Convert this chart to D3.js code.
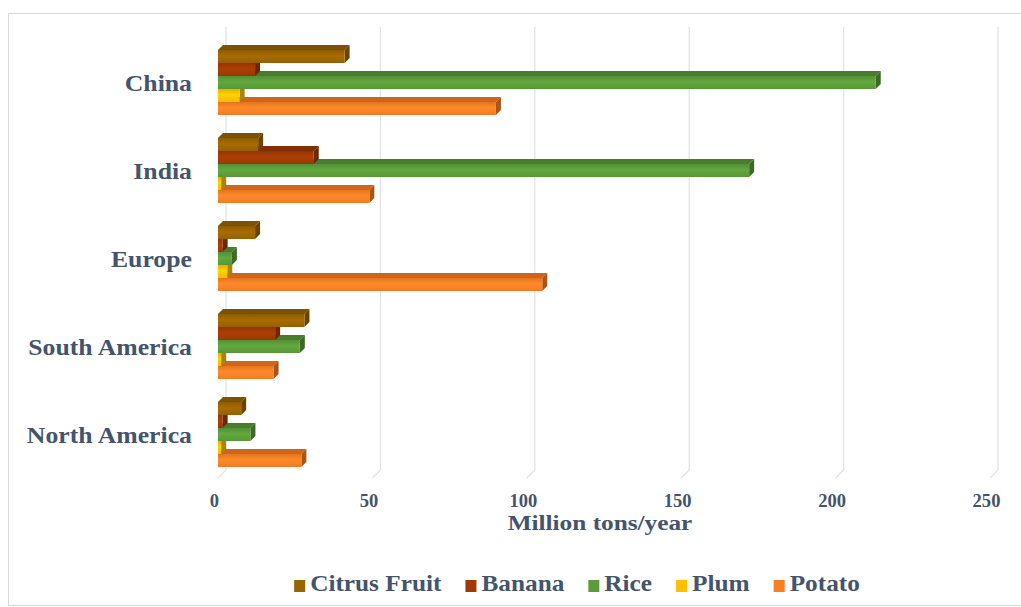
<!DOCTYPE html>
<html>
<head>
<meta charset="utf-8">
<script src="https://cdn.jsdelivr.net/npm/d3@7"></script>
<style>
  body { margin: 0; background: #fff; }
  text { font-family: "Liberation Serif", "Times New Roman", serif; font-weight: bold; fill: #44546A; }
</style>
</head>
<body>
<svg id="chart" width="1021" height="607"></svg>
<script>
// data
var categories = ["China", "India", "Europe", "South America", "North America"];
var seriesNames = ["Citrus Fruit", "Banana", "Rice", "Plum", "Potato"];
var citrus = [41, 13, 12, 28, 7.5];
var banana = [12, 31, 1.5, 18.5, 1.5];
var rice = [213, 172, 4.5, 26.5, 10.5];
var plum = [7, 1, 3, 1, 1];
var potato = [90, 49, 105, 18, 27];
var xTicks = [0, 50, 100, 150, 200, 250];
var colors = ["#9A6400", "#9F3A04", "#5B9B39", "#FFC000", "#FA7E24"];

var seriesValues = [citrus, banana, rice, plum, potato];
var depth = 5;

function stretch(k) { return "scale(" + k + ",1)"; }

var svg = d3.select('#chart');

svg.append('rect')
  .attr('x', 8.5).attr('y', 13.5)
  .attr('width', 1020).attr('height', 592)
  .attr('fill', '#fff')
  .attr('stroke', '#D9D9D9');

var x = d3.scaleLinear().domain([0, 250]).range([218, 990]);
var y0 = d3.scaleBand().domain(categories).range([38.5, 478.5])
  .paddingInner(23 / 88).paddingOuter(23 / 176);
var y1 = d3.scaleBand().domain(seriesNames).range([0, y0.bandwidth()]);

// gradients for the bar fronts
var defs = svg.append('defs');
seriesNames.forEach(function(s, i) {
  var c = d3.color(colors[i]);
  var grad = defs.append('linearGradient')
    .attr('id', 'grad' + i)
    .attr('x1', 0).attr('y1', 0).attr('x2', 0).attr('y2', 1);
  grad.append('stop').attr('offset', '0%').attr('stop-color', c.darker(0.25));
  grad.append('stop').attr('offset', '45%').attr('stop-color', c.brighter(0.25));
  grad.append('stop').attr('offset', '100%').attr('stop-color', c.darker(0.1));
});

// back wall gridlines with the floor diagonal
var grid = svg.append('g');
grid.selectAll('path')
  .data(xTicks)
  .enter().append('path')
  .attr('d', function(d) {
    var gx = x(d) + 8;
    return "M" + gx + ",27 L" + gx + ",470 L" + x(d) + ",478";
  })
  .attr('fill', 'none')
  .attr('stroke', '#E2E2E2')
  .attr('stroke-width', 1.2);

// bars, bottom series first so the upper bar covers the top face below it
var rows = [];
categories.forEach(function(cat, ci) {
  for (var si = seriesNames.length - 1; si >= 0; si--) {
    rows.push({ cat: cat, s: seriesNames[si], si: si, v: seriesValues[si][ci] });
  }
});

var bar = svg.append('g').selectAll('g')
  .data(rows)
  .enter().append('g');

bar.append('path')
  .attr('d', function(d) {
    var yy = y0(d.cat) + y1(d.s), x0 = x(0), x1 = x(d.v);
    return "M" + x0 + "," + yy + " L" + (x0 + depth) + "," + (yy - depth) +
      " L" + (x1 + depth) + "," + (yy - depth) + " L" + x1 + "," + yy + "Z";
  })
  .attr('fill', function(d) { return d3.color(colors[d.si]).darker(0.6); });

bar.append('path')
  .attr('d', function(d) {
    var yy = y0(d.cat) + y1(d.s), x1 = x(d.v), h = y1.bandwidth();
    return "M" + x1 + "," + yy + " L" + (x1 + depth) + "," + (yy - depth) +
      " L" + (x1 + depth) + "," + (yy + h - depth) + " L" + x1 + "," + (yy + h) + "Z";
  })
  .attr('fill', function(d) { return d3.color(colors[d.si]).darker(1.1); });

bar.append('rect')
  .attr('x', x(0))
  .attr('y', function(d) { return y0(d.cat) + y1(d.s); })
  .attr('width', function(d) { return x(d.v) - x(0); })
  .attr('height', y1.bandwidth())
  .attr('fill', function(d) { return 'url(#grad' + d.si + ')'; });

// axes
var xAxis = svg.append('g')
  .attr('transform', 'translate(-4,494)')
  .call(d3.axisBottom(x).tickValues(xTicks).tickSize(0).tickPadding(0));
xAxis.select('.domain').remove();
xAxis.selectAll('text')
  .attr('font-size', '18px')
  .attr('font-family', '"Liberation Serif", serif')
  .attr('fill', '#44546A')
  .attr('transform', stretch(1.03));

var yAxis = svg.append('g')
  .attr('transform', 'translate(192,1.5)')
  .call(d3.axisLeft(y0).tickSize(0).tickPadding(0));
yAxis.select('.domain').remove();
yAxis.selectAll('text')
  .attr('font-size', '23px')
  .attr('font-family', '"Liberation Serif", serif')
  .attr('fill', '#44546A')
  .attr('transform', stretch(1.12));

svg.append('g')
  .attr('transform', 'translate(600,530)')
  .append('text')
  .attr('text-anchor', 'middle')
  .attr('font-size', '22px')
  .attr('transform', stretch(1.15))
  .text('Million tons/year');

// legend
var legendScale = 1.1;
var legend = svg.append('g').attr('transform', 'translate(0,591)');
var items = legend.selectAll('g')
  .data(seriesNames)
  .enter().append('g');
items.append('rect')
  .attr('y', -11)
  .attr('width', 11)
  .attr('height', 12)
  .attr('fill', function(d, i) { return colors[i]; });
items.append('g')
  .attr('transform', 'translate(16,0)')
  .append('text')
  .attr('font-size', '23px')
  .attr('transform', stretch(legendScale))
  .text(function(d) { return d; });

var pos = 0, offsets = [];
items.each(function() {
  offsets.push(pos);
  var w = d3.select(this).select('text').node().getComputedTextLength() * legendScale;
  pos += 16 + w + 24;
});
var total = pos - 24;
var startX = 577 - total / 2;
items.attr('transform', function(d, i) { return 'translate(' + (startX + offsets[i]) + ',0)'; });
</script>
</body>
</html>
